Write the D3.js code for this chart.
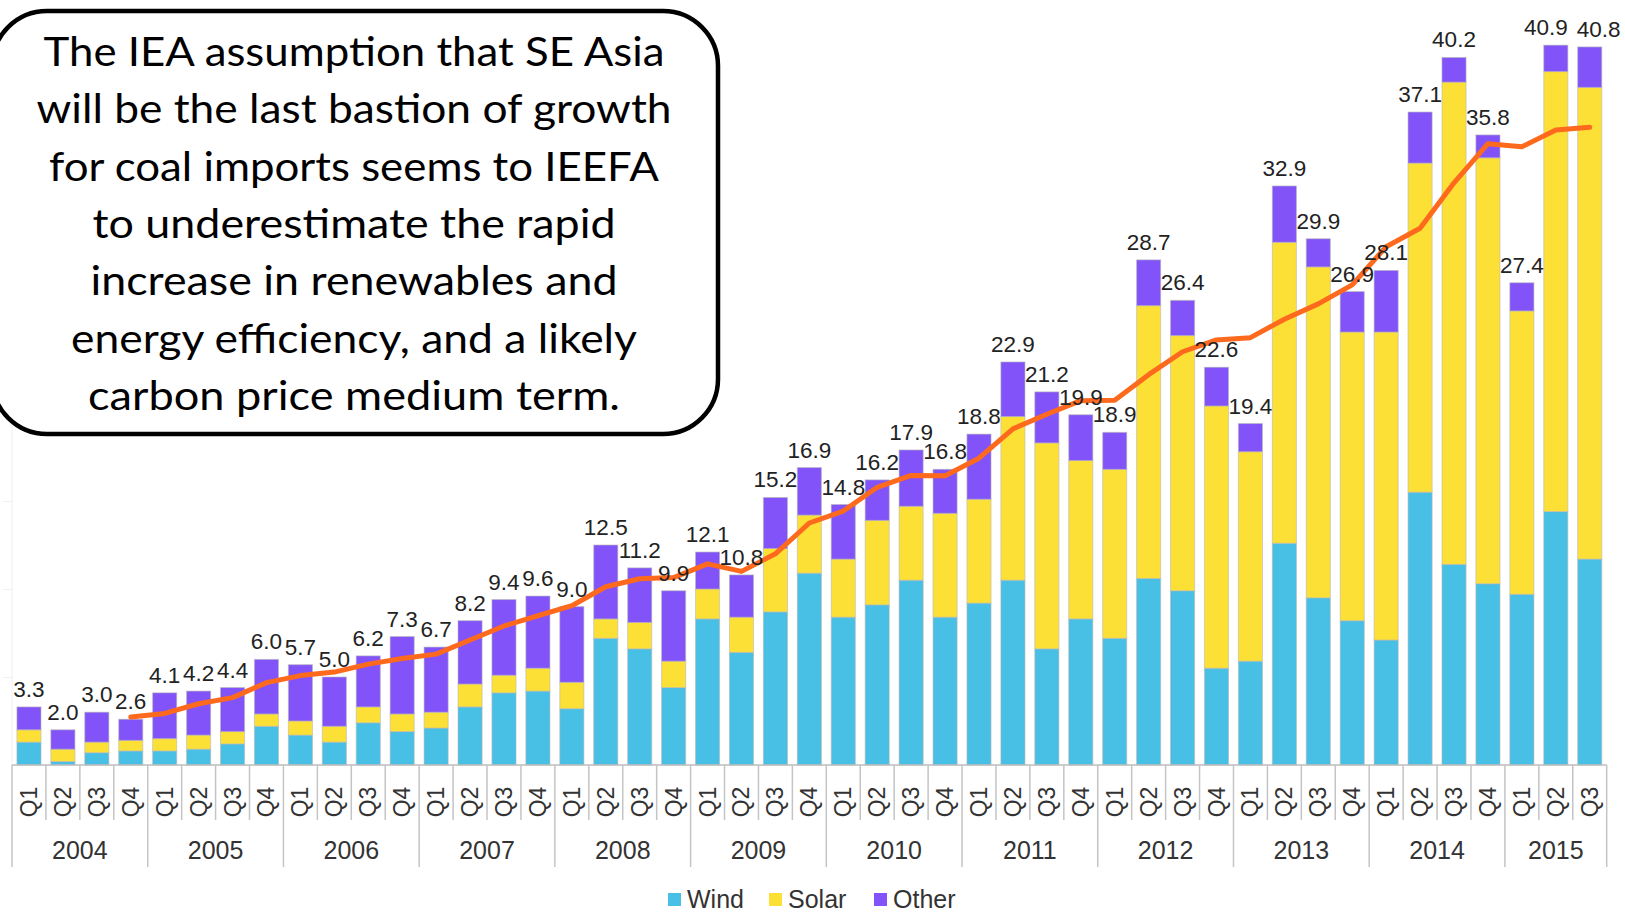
<!DOCTYPE html>
<html>
<head>
<meta charset="utf-8">
<script src="https://cdn.jsdelivr.net/npm/d3@7"></script>
<style>
  body { margin: 0; background: #fff; }
  svg { display: block; }
</style>
</head>
<body>
<svg id="chart" width="1625" height="913"></svg>
<script>
// quarters 2004 Q1 .. 2015 Q3
const years = ["2004","2005","2006","2007","2008","2009","2010","2011","2012","2013","2014","2015"]
const quarters = ["Q1","Q2","Q3","Q4"]

const wind = [1.3,0.2,0.7,0.8, 0.8,0.9,1.2,2.2, 1.7,1.3,2.4,1.9, 2.1,3.3,4.1,4.2,
              3.2,7.2,6.6,4.4, 8.3,6.4,8.7,10.9, 8.4,9.1,10.5,8.4, 9.2,10.5,6.6,8.3,
              7.2,10.6,9.9,5.5, 5.9,12.6,9.5,8.2, 7.1,15.5,11.4,10.3, 9.7,14.4,11.7]
const solar = [0.7,0.7,0.6,0.6, 0.7,0.8,0.7,0.7, 0.8,0.9,0.9,1.0, 0.9,1.3,1.0,1.3,
               1.5,1.1,1.5,1.5, 1.7,2.0,3.6,3.3, 3.3,4.8,4.2,5.9, 5.9,9.3,11.7,9.0,
               9.6,15.5,14.5,14.9, 11.9,17.1,18.8,16.4, 17.5,18.7,27.4,24.2, 16.1,25.0,26.8]
const other = [1.3,1.1,1.7,1.2, 2.6,2.5,2.5,3.1, 3.2,2.8,2.9,4.4, 3.7,3.6,4.3,4.1,
               4.3,4.2,3.1,4.0, 2.1,2.4,2.9,2.7, 3.1,2.3,3.2,2.5, 3.7,3.1,2.9,2.6,
               2.1,2.6,2.0,2.2, 1.6,3.2,1.6,2.3, 3.5,2.9,1.4,1.3, 1.6,1.5,2.3]
const totals = [3.3,2.0,3.0,2.6, 4.1,4.2,4.4,6.0, 5.7,5.0,6.2,7.3, 6.7,8.2,9.4,9.6,
                9.0,12.5,11.2,9.9, 12.1,10.8,15.2,16.9, 14.8,16.2,17.9,16.8, 18.8,22.9,21.2,19.9,
                18.9,28.7,26.4,22.6, 19.4,32.9,29.9,26.9, 28.1,37.1,40.2,35.8, 27.4,40.9,40.8]
// orange trend line (starts at 2004 Q4)
const trend = [null,null,null,2.73, 2.93,3.48,3.83,4.68, 5.08,5.28,5.73,6.05, 6.30,7.10,7.90,8.48,
               9.05,10.13,10.58,10.65, 11.43,11.00,12.00,13.75, 14.43,15.78,16.45,16.43, 17.43,19.10,19.93,20.70,
               20.73,22.18,23.48,24.15, 24.28,25.33,26.20,27.28, 29.45,30.50,33.08,35.30, 35.13,36.08,36.23]

const seriesNames = ["Wind","Solar","Other"]
const colors = {Wind: "#48bfe4", Solar: "#fde036", Other: "#8253f9"}

const calloutLines = [
  "The IEA assumption that SE Asia",
  "will be the last bastion of growth",
  "for coal imports seems to IEEFA",
  "to underestimate the rapid",
  "increase in renewables and",
  "energy efficiency, and a likely",
  "carbon price medium term."
]
const calloutWidths = [621, 635, 610, 523, 527, 566, 532]

const rows = wind.map((w, i) => ({
  key: years[Math.floor(i / 4)] + quarters[i % 4],
  year: years[Math.floor(i / 4)],
  q: quarters[i % 4],
  Wind: w, Solar: solar[i], Other: other[i],
  total: totals[i], trend: trend[i]
}))

const svg = d3.select("#chart")
const baseY = 765

const x = d3.scaleBand()
  .domain(rows.map(d => d.key))
  .range([12, 1606.7])
  .paddingInner(0.29)
  .paddingOuter(0.145)

const y = d3.scaleLinear().domain([0, 40]).range([baseY, baseY - 40 * 17.6])

// faint value axis
const yAxis = svg.append("g")
  .attr("transform", "translate(12,0)")
  .call(d3.axisLeft(y).tickValues([5, 10, 15, 20]).tickSize(9).tickFormat(""))
yAxis.select(".domain").attr("stroke", "#eeeeee").attr("d", `M0,${baseY}V${y(20) - 95}`)
yAxis.selectAll(".tick line").attr("stroke", "#eeeeee")

// stacked bars
const stacked = d3.stack().keys(seriesNames)(rows)
svg.append("g").selectAll("g")
  .data(stacked)
  .join("g")
    .attr("fill", d => colors[d.key])
  .selectAll("rect")
  .data(d => d)
  .join("rect")
    .attr("x", d => x(d.data.key))
    .attr("width", x.bandwidth())
    .attr("y", d => y(d[1]))
    .attr("height", d => y(d[0]) - y(d[1]))
    .attr("stroke", "#b8b8b8")
    .attr("stroke-opacity", 0.6)
    .attr("stroke-width", 1)

// category axis: quarters + years
const axisG = svg.append("g")
const step = x.step()
const left = x.range()[0]
axisG.append("line")
  .attr("x1", left).attr("x2", x.range()[1])
  .attr("y1", baseY).attr("y2", baseY)
  .attr("stroke", "#bdbdbd").attr("stroke-width", 1.5)

rows.forEach((d, i) => {
  const sepX = left + i * step
  const isYear = i % 4 == 0
  axisG.append("line")
    .attr("x1", sepX).attr("x2", sepX)
    .attr("y1", baseY).attr("y2", isYear ? 867 : 820)
    .attr("stroke", "#c4c4c4").attr("stroke-width", 1.5)
})
axisG.append("line")
  .attr("x1", x.range()[1]).attr("x2", x.range()[1])
  .attr("y1", baseY).attr("y2", 867)
  .attr("stroke", "#c4c4c4").attr("stroke-width", 1.5)

axisG.selectAll(".qlab")
  .data(rows)
  .join("text")
    .attr("class", "qlab")
    .attr("transform", d => `translate(${x(d.key) + x.bandwidth() / 2 + 8},802) rotate(-90)`)
    .attr("text-anchor", "middle")
    .attr("font-family", "Liberation Sans, Arial, sans-serif")
    .attr("font-size", 23)
    .attr("fill", "#333")
    .text(d => d.q)

const yearGroups = d3.groups(rows, d => d.year)
axisG.selectAll(".ylab")
  .data(yearGroups)
  .join("text")
    .attr("class", "ylab")
    .attr("x", d => {
      const first = x(d[1][0].key), last = x(d[1][d[1].length - 1].key)
      return (first + last + x.bandwidth()) / 2
    })
    .attr("y", 859)
    .attr("text-anchor", "middle")
    .attr("font-family", "Liberation Sans, Arial, sans-serif")
    .attr("font-size", 25)
    .attr("fill", "#333")
    .text(d => d[0])

// trend line
const line = d3.line()
  .defined(d => d.trend != null)
  .x(d => x(d.key) + x.bandwidth() / 2)
  .y(d => y(d.trend))
svg.append("path")
  .datum(rows)
  .attr("d", line)
  .attr("fill", "none")
  .attr("stroke", "#fd6a1e")
  .attr("stroke-width", 5)
  .attr("stroke-linejoin", "round")
  .attr("stroke-linecap", "round")

// total labels (last two nudged apart like the original)
const nudge = {"2015Q2": -10, "2015Q3": 9}
svg.append("g").selectAll("text")
  .data(rows)
  .join("text")
    .attr("x", d => x(d.key) + x.bandwidth() / 2 + (nudge[d.key] || 0))
    .attr("y", d => y(d.total) - 10)
    .attr("text-anchor", "middle")
    .attr("font-family", "Liberation Sans, Arial, sans-serif")
    .attr("font-size", 22.5)
    .attr("fill", "#222")
    .text(d => d.total.toFixed(1))

// legend
const legend = svg.append("g")
const legendX = [668, 769, 874]
seriesNames.forEach((name, i) => {
  legend.append("rect")
    .attr("x", legendX[i]).attr("y", 893)
    .attr("width", 13).attr("height", 13)
    .attr("fill", colors[name])
  legend.append("text")
    .attr("x", legendX[i] + 19).attr("y", 908)
    .attr("font-family", "Liberation Sans, Arial, sans-serif")
    .attr("font-size", 25)
    .attr("fill", "#333")
    .text(name)
})

// callout box
const box = svg.append("g")
box.append("rect")
  .attr("x", -8).attr("y", 11)
  .attr("width", 726).attr("height", 423)
  .attr("rx", 55).attr("ry", 55)
  .attr("fill", "#fff")
  .attr("stroke", "#000")
  .attr("stroke-width", 4.5)
box.selectAll("text")
  .data(calloutLines)
  .join("text")
    .attr("x", 354)
    .attr("y", (d, i) => 66 + i * 57.3)
    .attr("text-anchor", "middle")
    .attr("font-family", "Lato, 'Open Sans', sans-serif")
    .attr("font-size", 41)
    .attr("fill", "#000")
    .attr("textLength", (d, i) => calloutWidths[i])
    .attr("lengthAdjust", "spacingAndGlyphs")
    .text(d => d)
</script>
</body>
</html>
